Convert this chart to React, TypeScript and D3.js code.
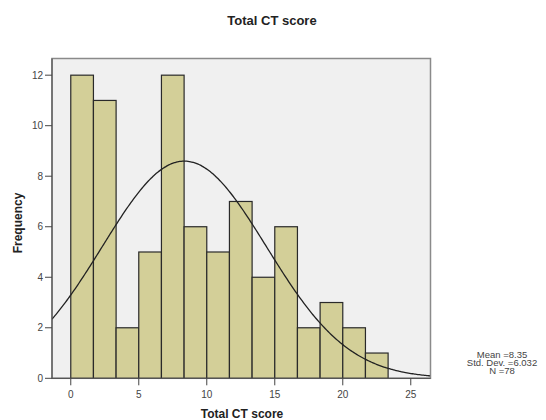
import React from "react";
import * as d3 from "d3";

const binStart = 0;
const binWidth = 5 / 3;
const frequencies = [12, 11, 2, 5, 12, 6, 5, 7, 4, 6, 2, 3, 2, 1];
const xTicks = [0, 5, 10, 15, 20, 25];
const yTicks = [0, 2, 4, 6, 8, 10, 12];
const mean = 8.35;
const sd = 6.032;
const n = 78;
const legendLines = ["Mean =8.35", "Std. Dev. =6.032", "N =78"];

export default function App() {
  const W = 546, H = 420;
  const left = 52, right = 430.5, top = 58.5, bottom = 378.3;
  const x = d3.scaleLinear().domain([-1.38, 26.45]).range([left, right]);
  const y = d3.scaleLinear().domain([0, 12.66]).range([bottom, top]);
  const font = "'Liberation Sans', Arial, sans-serif";

  const pdf = (v: number) =>
    (n * binWidth) / (sd * Math.sqrt(2 * Math.PI)) * Math.exp(-0.5 * ((v - mean) / sd) ** 2);
  const pts = d3.range(-1.38, 26.46, 0.1).map((v) => [v, pdf(v)] as [number, number]);
  const line = d3.line<[number, number]>().x((d) => x(d[0])).y((d) => y(d[1])).curve(d3.curveBasis);

  return (
    <svg width={W} height={H} style={{ position: "absolute", left: 0, top: 0 }}>
      <rect x={0} y={0} width={W} height={H} fill="#fff" />
      <text x={272} y={25} textAnchor="middle" fontFamily={font} fontWeight="bold" fontSize={13} fill="#222">
        Total CT score
      </text>
      <rect x={left} y={top} width={right - left} height={bottom - top} fill="#f0f0f0" stroke="#8a8a8a" strokeWidth={1.5} />
      <defs>
        <clipPath id="plot">
          <rect x={left} y={top} width={right - left} height={bottom - top} />
        </clipPath>
      </defs>
      {frequencies.map((f, i) => {
        const x0 = x(binStart + i * binWidth);
        const x1 = x(binStart + (i + 1) * binWidth);
        return (
          <rect key={i} x={x0} y={y(f)} width={x1 - x0} height={bottom - y(f)} fill="#d3cf98" stroke="#2a2a2a" strokeWidth={1.2} />
        );
      })}
      <path d={line(pts) || ""} fill="none" stroke="#222" strokeWidth={1.3} clipPath="url(#plot)" />
      <line x1={left} x2={left} y1={top} y2={bottom} stroke="#555" strokeWidth={1.2} />
      <line x1={left} x2={right} y1={bottom} y2={bottom} stroke="#555" strokeWidth={1.2} />
      {yTicks.map((t) => (
        <g key={t}>
          <line x1={left - 7} x2={left} y1={y(t)} y2={y(t)} stroke="#444" strokeWidth={1} />
          <text x={left - 9} y={y(t) + 3.5} textAnchor="end" fontFamily={font} fontSize={10} fill="#444">
            {t}
          </text>
        </g>
      ))}
      {xTicks.map((t) => (
        <g key={t}>
          <line x1={x(t)} x2={x(t)} y1={bottom} y2={bottom + 7} stroke="#444" strokeWidth={1} />
          <text x={x(t)} y={bottom + 20} textAnchor="middle" fontFamily={font} fontSize={10} fill="#444">
            {t}
          </text>
        </g>
      ))}
      <text x={242} y={418} textAnchor="middle" fontFamily={font} fontWeight="bold" fontSize={12} fill="#222">
        Total CT score
      </text>
      <text transform={`translate(22,223) rotate(-90)`} textAnchor="middle" fontFamily={font} fontWeight="bold" fontSize={12} fill="#222">
        Frequency
      </text>
      {legendLines.map((s, i) => (
        <text key={i} transform={`translate(502,${358 + i * 8}) scale(1.12,1)`} textAnchor="middle" fontFamily={font} fontSize={8.5} fill="#444">
          {s}
        </text>
      ))}
    </svg>
  );
}
